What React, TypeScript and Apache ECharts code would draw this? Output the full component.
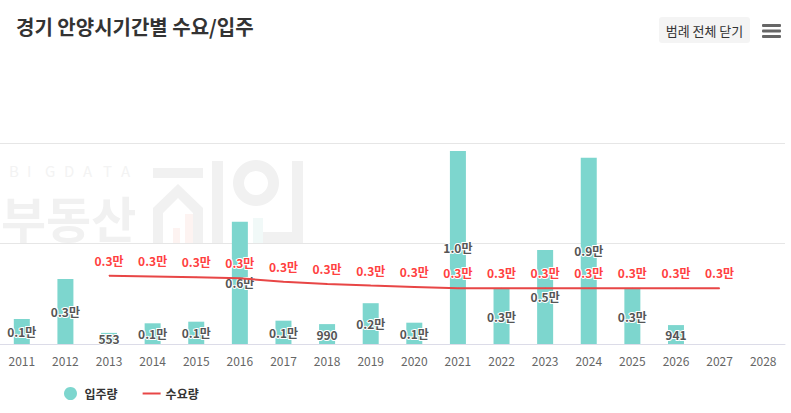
import React, { useEffect, useRef } from "react";
import * as echarts from "echarts";

const years = ["2011","2012","2013","2014","2015","2016","2017","2018","2019","2020","2021","2022","2023","2024","2025","2026","2027","2028"];
const supply: (number | null)[] = [1240, 3230, 553, 1030, 1110, 6080, 1160, 990, 2030, 1060, 9600, 2740, 4680, 9260, 2750, 941, null, null];
const demand: (number | null)[] = [null, null, 3400, 3360, 3320, 3270, 3100, 2990, 2910, 2840, 2770, 2770, 2770, 2770, 2770, 2770, 2770, null];
const supplyName = "입주량";
const demandName = "수요량";
const titleText = "경기 안양시기간별 수요/입주";
const buttonText = "범례 전체 닫기";
const watermarkLetters = ["B", "I", "G", "D", "A", "T", "A"];

const FONT = '"Noto Sans CJK KR", "Noto Sans", sans-serif';
const RED = "#e84646";

function fmt(v: number) {
  if (v == null) return "";
  return v < 1000 ? String(v) : (v / 10000).toFixed(1) + "만";
}

export default function App() {
  const ref = useRef<HTMLDivElement>(null);
  useEffect(() => {
    document.body.style.margin = "0";
    const chart = echarts.init(ref.current!, null, { renderer: "svg" });
    const wm = "#f1f1f1";
    const letterXs = [9, 27, 45, 64, 83, 103, 121];
    chart.setOption({
      animation: false,
      textStyle: { fontFamily: FONT },
      title: {
        text: titleText,
        left: 11,
        top: 11,
        textStyle: { fontSize: 20, fontWeight: "bold", color: "#333", fontFamily: FONT },
      },
      legend: {
        bottom: 8,
        left: 59,
        itemWidth: 18,
        itemHeight: 13,
        itemGap: 25,
        itemTextGap: 6,
        textStyle: { fontSize: 12, fontWeight: "bold", color: "#333", fontFamily: FONT },
        data: [
          { name: supplyName, icon: "circle" },
          { name: demandName, icon: "path://M0,0 L18,0 L18,2 L0,2 Z", itemStyle: { color: RED } },
        ],
      },
      graphic: [
        { type: "rect", left: 659, top: 17, shape: { width: 91, height: 26, r: 3 }, style: { fill: "#f4f4f4" } },
        { type: "text", x: 704.5, y: 30, style: { text: buttonText, font: `13px ${FONT}`, fill: "#333", align: "center", verticalAlign: "middle" } },
        { type: "rect", x: 762, y: 24, shape: { width: 19, height: 3, r: 1 }, style: { fill: "#666" } },
        { type: "rect", x: 762, y: 29.5, shape: { width: 19, height: 3, r: 1 }, style: { fill: "#666" } },
        { type: "rect", x: 762, y: 35, shape: { width: 19, height: 3, r: 1 }, style: { fill: "#666" } },
        // watermark
        ...watermarkLetters.map((ch, i) => ({
          type: "text", z: -10, x: letterXs[i], y: 170,
          style: { text: ch, font: `15px ${FONT}`, fill: "#f3f3f3", verticalAlign: "middle", lineHeight: 14 },
        })),
        { type: "text", z: -10, x: 1, y: 216, style: { text: "부동산", font: `bold 49px ${FONT}`, fill: wm, verticalAlign: "middle", lineHeight: 44 } },
        { type: "rect", z: -10, x: 153, y: 168, shape: { width: 50, height: 10 }, style: { fill: wm } },
        { type: "polygon", z: -10, shape: { points: [[153,243],[153,208],[178,184],[203,208],[203,243],[193,243],[193,213],[178,198],[163,213],[163,243]] }, style: { fill: wm } },
        { type: "rect", z: -10, x: 173, y: 228, shape: { width: 7, height: 15 }, style: { fill: "#fdf3f1" } },
        { type: "rect", z: -10, x: 185, y: 214, shape: { width: 8, height: 29 }, style: { fill: "#fdf3f1" } },
        { type: "rect", z: -10, x: 212, y: 161, shape: { width: 11, height: 82 }, style: { fill: wm } },
        { type: "ring", z: -10, shape: { cx: 256, cy: 183, r: 23, r0: 12 }, style: { fill: wm } },
        { type: "rect", z: -10, x: 253, y: 218, shape: { width: 10, height: 25 }, style: { fill: "#f1f9f8" } },
        { type: "rect", z: -10, x: 263, y: 232, shape: { width: 40, height: 11 }, style: { fill: wm } },
        { type: "rect", z: -10, x: 292, y: 161, shape: { width: 11, height: 82 }, style: { fill: wm } },
      ],
      grid: { left: 0, right: 6, top: 143, bottom: 69, containLabel: false },
      xAxis: {
        type: "category",
        data: years,
        axisTick: { show: false },
        axisLine: { lineStyle: { color: "#dcdce8", width: 1 } },
        axisLabel: { color: "#666", fontSize: 12, margin: 10, fontFamily: FONT },
      },
      yAxis: {
        type: "value",
        min: 0,
        max: 10000,
        interval: 5000,
        axisLabel: { show: false },
        axisLine: { show: false },
        axisTick: { show: false },
        splitLine: { lineStyle: { color: "#e6e6e6" } },
      },
      series: [
        {
          name: supplyName,
          type: "bar",
          data: supply,
          barWidth: 16,
          itemStyle: { color: "#7dd6ce" },
          label: {
            show: true,
            position: "inside",
            formatter: (p: any) => fmt(p.value),
            color: "#555",
            fontSize: 12,
            fontWeight: "bold",
            fontFamily: FONT,
            textBorderColor: "#fff",
            textBorderWidth: 2,
          },
          z: 2,
        },
        {
          name: demandName,
          type: "line",
          data: demand,
          color: RED,
          symbol: "circle",
          symbolSize: 1,
          showSymbol: true,
          itemStyle: { color: RED },
          lineStyle: { color: RED, width: 2 },
          label: {
            show: true,
            position: "top",
            distance: 9,
            formatter: (p: any) => fmt(p.value),
            color: "#ff4040",
            fontSize: 12,
            fontWeight: "bold",
            fontFamily: FONT,
            textBorderColor: "#fff",
            textBorderWidth: 2,
          },
          z: 3,
        },
      ],
    });
    return () => chart.dispose();
  }, []);
  return <div ref={ref} style={{ width: 791, height: 413 }} />;
}
